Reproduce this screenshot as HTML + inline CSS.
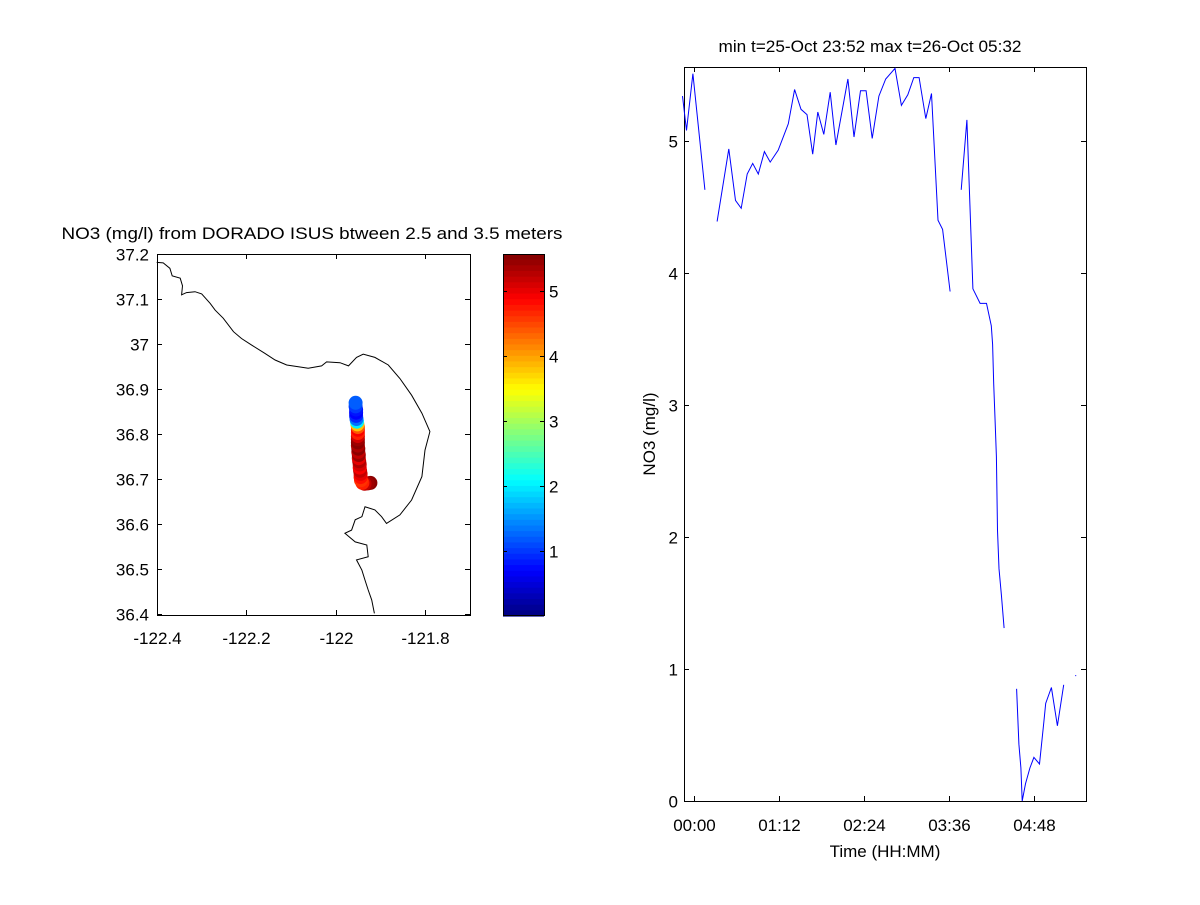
<!DOCTYPE html>
<html><head><meta charset="utf-8"><style>
body{margin:0;background:#fff;}
svg text{font-family:"Liberation Sans",sans-serif;font-size:17px;fill:#000;}
</style></head><body>
<svg id="fig" width="1200" height="900" xmlns="http://www.w3.org/2000/svg"></svg>
<script>
// ---- Time series data (minutes after 00:00, NO3 mg/l); null = gap
const seriesTimes = [-9.4,-6.0,-0.6,9.6,null,19.9,29.8,35.5,40.3,45.4,50.0,54.8,59.9,64.8,71.6,80.1,85.5,90.9,96.0,100.8,105.1,110.2,115.6,120.4,130.6,135.7,141.2,146.0,151.1,156.8,162.5,170.4,175.8,181.2,186.3,190.8,196.5,201.3,206.8,210.7,217.0,null,226.4,231.2,236.3,242.4,247.8,251.9,253.0,253.9,255.1,256.2,257.1,258.4,260.4,262.7,null,273.3,275.2,276.9,278.0,280.8,284.5,287.9,292.7,296.5,297.9,302.7,307.8,313.1,null,322.9];
const seriesValues = [5.34,5.08,5.51,4.63,null,4.39,4.94,4.55,4.49,4.75,4.83,4.75,4.92,4.84,4.93,5.13,5.39,5.24,5.20,4.90,5.22,5.05,5.37,4.97,5.47,5.03,5.38,5.38,5.02,5.34,5.47,5.55,5.27,5.35,5.48,5.48,5.17,5.36,4.40,4.33,3.86,null,4.63,5.16,3.88,3.77,3.77,3.60,3.46,3.16,2.88,2.61,2.05,1.76,1.56,1.31,null,0.85,0.43,0.25,0.0,0.13,0.25,0.33,0.28,0.61,0.74,0.86,0.57,0.88,null,0.95];
const yTicks = [0,1,2,3,4,5];
const xTickMinutes = [0,72,144,216,288];
const xTickLabels = ["00:00","01:12","02:24","03:36","04:48"];
// ---- Map data
const trackLon = [-121.955,-121.955,-121.954,-121.954,-121.954,-121.953,-121.952,-121.951,-121.950,-121.950,-121.950,-121.950,-121.950,-121.950,-121.950,-121.949,-121.949,-121.948,-121.948,-121.947,-121.946,-121.946,-121.945,-121.944,-121.944,-121.943,-121.940,-121.935,-121.928,-121.922];
const trackLat = [36.870,36.862,36.855,36.848,36.841,36.834,36.828,36.822,36.816,36.810,36.803,36.796,36.789,36.782,36.775,36.768,36.761,36.754,36.747,36.740,36.733,36.726,36.719,36.712,36.705,36.698,36.692,36.690,36.691,36.692];
const trackNO3 = [1.2,1.0,0.8,0.7,0.9,1.3,2.0,3.8,4.4,4.9,4.7,5.1,5.4,5.5,5.3,5.5,5.2,5.4,5.0,5.3,5.1,4.9,5.2,5.0,4.8,4.6,4.7,5.2,5.4,5.5];
const coastLon = [-122.3996,-122.385,-122.370,-122.365,-122.347,-122.342,-122.344,-122.333,-122.314,-122.299,-122.280,-122.269,-122.251,-122.228,-122.210,-122.187,-122.158,-122.135,-122.109,-122.083,-122.061,-122.031,-122.020,-121.990,-121.971,-121.953,-121.938,-121.912,-121.882,-121.856,-121.830,-121.807,-121.789,-121.800,-121.807,-121.830,-121.856,-121.886,-121.897,-121.912,-121.934,-121.941,-121.956,-121.964,-121.979,-121.956,-121.930,-121.927,-121.953,-121.941,-121.934,-121.927,-121.919,-121.913];
const coastLat = [37.182,37.181,37.169,37.152,37.147,37.130,37.110,37.115,37.117,37.112,37.091,37.076,37.058,37.028,37.013,36.998,36.980,36.965,36.954,36.950,36.947,36.952,36.961,36.959,36.952,36.971,36.978,36.971,36.954,36.924,36.887,36.847,36.806,36.765,36.706,36.654,36.621,36.602,36.617,36.632,36.639,36.617,36.610,36.587,36.580,36.561,36.554,36.528,36.521,36.498,36.476,36.454,36.432,36.402];
const lonTicks = [-122.4,-122.2,-122,-121.8];
const lonLabels = ["-122.4","-122.2","-122","-121.8"];
const latTicks = [36.4,36.5,36.6,36.7,36.8,36.9,37,37.1,37.2];
const latLabels = ["36.4","36.5","36.6","36.7","36.8","36.9","37","37.1","37.2"];
const cbTicks = [1,2,3,4,5];

const NS="http://www.w3.org/2000/svg";
const svg=document.getElementById('fig');
function mk(tag,attrs,parent){const e=document.createElementNS(NS,tag);for(const k in attrs)e.setAttribute(k,attrs[k]);(parent||svg).appendChild(e);return e;}
function txt(s,x,y,anchor,parent){const t=mk('text',{x:x,y:y,'text-anchor':anchor||'middle'},parent);t.textContent=s;return t;}

function jet(v){
  const f=(x)=>Math.max(0,Math.min(1,x));
  const r=f(1.5-Math.abs(4*v-3)),g=f(1.5-Math.abs(4*v-2)),b=f(1.5-Math.abs(4*v-1));
  return `rgb(${Math.round(r*255)},${Math.round(g*255)},${Math.round(b*255)})`;
}
const cmin=0,cmax=5.56;

// ===== Right chart =====
const R={x0:684,x1:1086,y0:67,y1:801,tmin:-8.1,tmax:332};
const xs=t=>R.x0+(t-R.tmin)/(R.tmax-R.tmin)*(R.x1-R.x0);
const ys=v=>R.y1-v*132;
const gR=mk('g',{});


const rt=txt('min t=25-Oct 23:52 max t=26-Oct 05:32',870,52,'middle',gR);
rt.setAttribute('textLength','303');
rt.setAttribute('lengthAdjust','spacingAndGlyphs');


const fr=mk('rect',{x:R.x0+0.5,y:R.y0+0.5,width:R.x1-R.x0,height:R.y1-R.y0,fill:'none',stroke:'#000','stroke-width':1},gR);


yTicks.forEach(v=>{
  const y=Math.round(ys(v))+0.5;
  mk('line',{x1:R.x0,x2:R.x0+5,y1:y,y2:y,stroke:'#000'},gR);
  mk('line',{x1:R.x1-5,x2:R.x1,y1:y,y2:y,stroke:'#000'},gR);
  const t=txt(String(v),678,y+6,'end',gR);
  
  
});
xTickMinutes.forEach((m,i)=>{
  const x=Math.round(xs(m))+0.5;
  mk('line',{x1:x,x2:x,y1:R.y0,y2:R.y0+5,stroke:'#000'},gR);
  mk('line',{x1:x,x2:x,y1:R.y1-5,y2:R.y1,stroke:'#000'},gR);
  const t=txt(xTickLabels[i],x,831,'middle',gR);
  
  
});
const xl=txt('Time (HH:MM)',885,857,'middle',gR);


const yl=txt('NO3 (mg/l)',0,0,'middle',gR);
yl.setAttribute('transform','translate(655,434) rotate(-90)');


let d='',pen=false;
for(let i=0;i<seriesTimes.length;i++){
  if(seriesTimes[i]===null){pen=false;continue;}
  const x=xs(seriesTimes[i]).toFixed(1),y=ys(seriesValues[i]).toFixed(1);
  const next=i+1<seriesTimes.length?seriesTimes[i+1]:null;
  if(!pen){d+=`M${x},${y}`; if(next===null) d+=`l1,0`; pen=true;} else d+=`L${x},${y}`;
}
const line=mk('path',{d:d,fill:'none',stroke:'#0000ff','stroke-width':1},gR);



// ===== Map =====
const M={x0:157,x1:470,y0:254,y1:615};
const lx=lon=>156.5+(lon+122.4)*447.5;
const ly=lat=>254.3+(37.2-lat)*450;
const gM=mk('g',{});


const mt=txt('NO3 (mg/l) from DORADO ISUS btween 2.5 and 3.5 meters',312,239,'middle',gM);
mt.setAttribute('textLength','501');
mt.setAttribute('lengthAdjust','spacingAndGlyphs');


let cd='';
coastLon.forEach((lo,i)=>{cd+=(i?'L':'M')+lx(lo).toFixed(1)+','+ly(coastLat[i]).toFixed(1);});
const coast=mk('path',{d:cd,fill:'none',stroke:'#000','stroke-width':1},gM);


for(let i=trackLon.length-1;i>=0;i--){
  const c=mk('circle',{cx:lx(trackLon[i]).toFixed(1),cy:ly(trackLat[i]).toFixed(1),r:7,fill:jet((trackNO3[i]-cmin)/(cmax-cmin))},gM);
  
  
}
const mf=mk('rect',{x:M.x0+0.5,y:M.y0+0.5,width:M.x1-M.x0,height:M.y1-M.y0,fill:'none',stroke:'#000'},gM);


latTicks.forEach((v,i)=>{
  const y=Math.round(ly(v))+0.5;
  mk('line',{x1:M.x0,x2:M.x0+5,y1:y,y2:y,stroke:'#000'},gM);
  mk('line',{x1:M.x1-5,x2:M.x1,y1:y,y2:y,stroke:'#000'},gM);
  const t=txt(latLabels[i],149,y+6,'end',gM);
  
  
});
lonTicks.forEach((v,i)=>{
  const x=Math.round(lx(v))+0.5;
  mk('line',{x1:x,x2:x,y1:M.y0,y2:M.y0+5,stroke:'#000'},gM);
  mk('line',{x1:x,x2:x,y1:M.y1-5,y2:M.y1,stroke:'#000'},gM);
  const t=txt(lonLabels[i],x,644,'middle',gM);
  
  
});

// ===== Colorbar =====
const C={x0:503,x1:544,y0:254,y1:616};
const cy=v=>C.y1-v*65;
const gC=mk('g',{});


const nb=64;
for(let k=0;k<nb;k++){
  const ya=C.y0+(C.y1-C.y0)*k/nb, yb=C.y0+(C.y1-C.y0)*(k+1)/nb;
  mk('rect',{x:C.x0,y:ya.toFixed(2),width:C.x1-C.x0,height:(yb-ya+0.6).toFixed(2),fill:jet(1-(k+0.5)/nb)},gC);
}
mk('rect',{x:C.x0+0.5,y:C.y0+0.5,width:C.x1-C.x0,height:C.y1-C.y0-1,fill:'none',stroke:'#000'},gC);
cbTicks.forEach(v=>{
  const y=Math.round(cy(v))+0.5;
  mk('line',{x1:C.x0,x2:C.x0+4,y1:y,y2:y,stroke:'#000'},gC);
  mk('line',{x1:C.x1-4,x2:C.x1,y1:y,y2:y,stroke:'#000'},gC);
  const t=txt(String(v),549,y+6,'start',gC);
  
  
});
</script>
</body></html>
